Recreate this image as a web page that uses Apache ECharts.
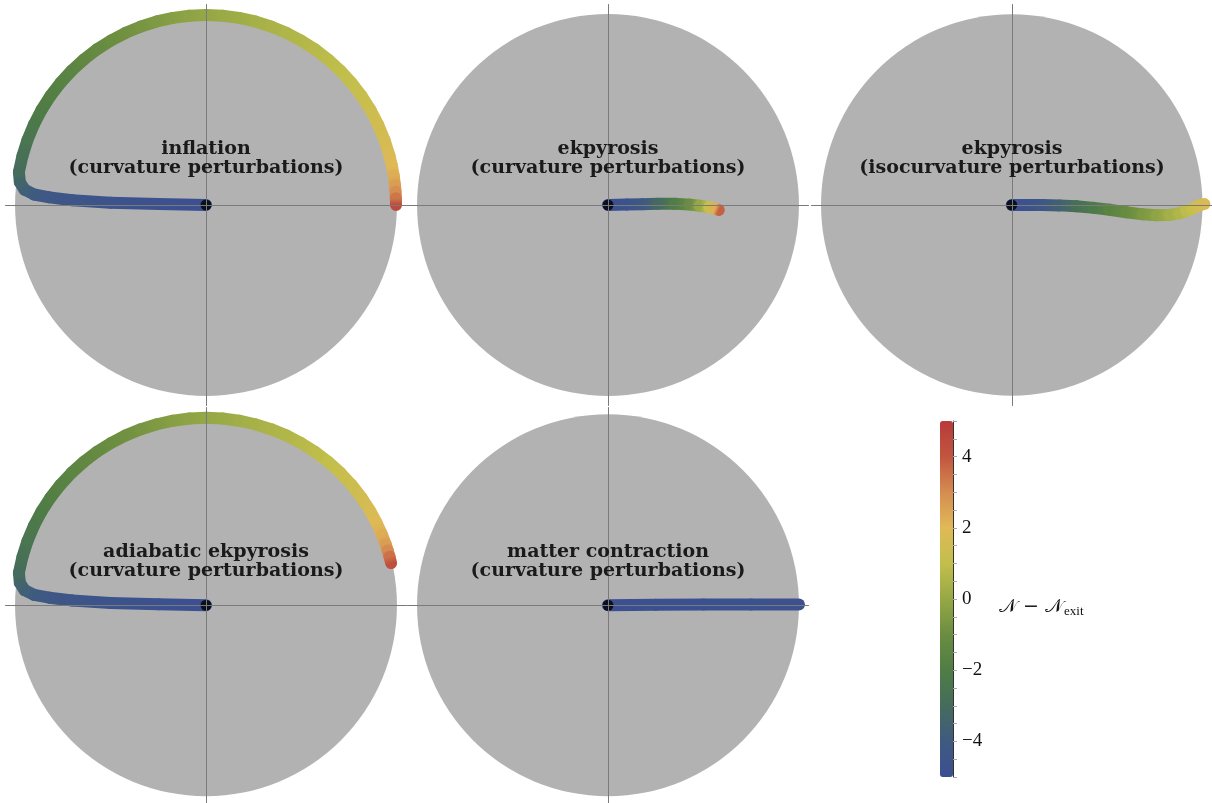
<!DOCTYPE html>
<html>
<head>
<meta charset="utf-8">
<script src="https://cdn.jsdelivr.net/npm/echarts@6/dist/echarts.min.js"></script>
<style>html,body{margin:0;padding:0;background:#fff}#c{width:1212px;height:803px}</style>
</head>
<body>
<div id="c"></div>
<script>
// ---- data ----
// straight legs: [x, y, N - N_exit]; arcs on the rim: [angle in degrees, N - N_exit]
const arcRadius = 0.995;
const inflationLeg = [
  [0,0,-5],[-0.25,0.005,-4.85],[-0.5,0.012,-4.65],[-0.7,0.025,-4.45],[-0.82,0.04,-4.25],
  [-0.9,0.055,-4.0],[-0.95,0.08,-3.75],[-0.975,0.12,-3.45]
];
const inflationArc = [
  [170,-3.0],[165,-2.75],[160,-2.5],[155,-2.27],[150,-2.05],[145,-1.87],[140,-1.7],[135,-1.52],
  [130,-1.35],[125,-1.17],[120,-1.0],[115,-0.85],[110,-0.7],[105,-0.52],[100,-0.35],[95,-0.2],
  [90,-0.05],[85,0.08],[80,0.2],[75,0.33],[70,0.45],[65,0.55],[60,0.65],[55,0.75],[50,0.85],
  [45,0.95],[40,1.05],[35,1.17],[30,1.3],[25,1.45],[20,1.6],[15,1.8],[12,2.0],[9,2.25],
  [6,2.6],[4,2.95],[2,3.4],[0,4.5]
];
const adiabaticLeg = [
  [0,0,-5],[-0.25,0.005,-4.85],[-0.5,0.012,-4.65],[-0.7,0.025,-4.45],[-0.82,0.04,-4.25],
  [-0.9,0.055,-4.0],[-0.95,0.08,-3.75],[-0.975,0.12,-3.45]
];
const adiabaticArc = [
  [170,-3.0],[165,-2.75],[160,-2.5],[155,-2.27],[150,-2.05],[145,-1.87],[140,-1.7],[135,-1.52],
  [130,-1.35],[125,-1.17],[120,-1.0],[115,-0.85],[110,-0.7],[105,-0.52],[100,-0.35],[95,-0.2],
  [90,-0.05],[85,0.1],[80,0.25],[75,0.37],[70,0.5],[65,0.62],[60,0.75],[55,0.87],[50,1.0],
  [45,1.15],[40,1.3],[35,1.5],[30,1.7],[26,1.95],[22,2.3],[19,2.6],[17,3.0],[15,3.5],[13,4.2]
];
const ekpyrosisCurvLeg = [
  [0,0,-5],[0.1,0.002,-4.7],[0.18,0.004,-4.2],[0.26,0.006,-3.2],[0.35,0.006,-2.0],
  [0.43,0.002,-1.0],[0.48,-0.004,0],[0.53,-0.012,1.2],[0.56,-0.018,2.2],[0.58,-0.026,3.8]
];
const ekpyrosisIsoLeg = [
  [0,0,-5],[0.08,0,-4.75],[0.164,0,-4.3],[0.25,-0.002,-3.6],[0.339,-0.007,-2.8],
  [0.43,-0.015,-2.2],[0.513,-0.025,-1.6],[0.6,-0.038,-1.1],[0.687,-0.049,-0.6],
  [0.76,-0.054,-0.15],[0.827,-0.052,0.3],[0.88,-0.043,0.6],[0.915,-0.031,0.9],
  [0.945,-0.02,1.15],[0.967,-0.009,1.4],[0.99,0,1.6],[1.01,0.005,1.8]
];
const matterLeg = [
  [0,0,-5],[0.25,0.003,-4.95],[0.5,0.004,-4.9],[0.75,0.004,-4.85],[1.0,0.004,-4.8]
];
const panelTitles = [
  'inflation\n(curvature perturbations)',
  'ekpyrosis\n(curvature perturbations)',
  'ekpyrosis\n(isocurvature perturbations)',
  'adiabatic ekpyrosis\n(curvature perturbations)',
  'matter contraction\n(curvature perturbations)'
];
const colorbarTicks = [-4, -2, 0, 2, 4];
const nRange = [-5, 5];
const palette = ['#3b4f92','#3f5a80','#456c5c','#4f7d45','#6a8d40','#96a846','#c2bf4b','#e0b957','#d58c50','#c2553f','#b83a3a'];

function arcToXY(arc) {
  return arc.map(a => [arcRadius * Math.cos(a[0] * Math.PI / 180), arcRadius * Math.sin(a[0] * Math.PI / 180), a[1]]);
}
const panelPaths = [
  inflationLeg.concat(arcToXY(inflationArc)),
  ekpyrosisCurvLeg,
  ekpyrosisIsoLeg,
  adiabaticLeg.concat(arcToXY(adiabaticArc)),
  matterLeg
];

// ---- layout ----
const centers = [[206,205],[608,205],[1012,205],[206,608],[608,608]];
const half = 200.5;
const grids = centers.map(c => ({left: c[0]-half, top: c[1]-half, width: 2*half, height: 2*half}));
grids.push({left: 940, top: 421, width: 13, height: 356});

const axisStyle = {color: '#7a7a7a', width: 1};
const xAxes = [], yAxes = [];
for (let i = 0; i < 5; i++) {
  xAxes.push({gridIndex: i, type: 'value', min: -1.05, max: 1.05, z: 10,
    axisLine: {show: true, onZero: true, lineStyle: axisStyle},
    axisTick: {show: false}, axisLabel: {show: false}, splitLine: {show: false}});
  yAxes.push({gridIndex: i, type: 'value', min: -1.05, max: 1.05, z: 10,
    axisLine: {show: true, onZero: true, lineStyle: axisStyle},
    axisTick: {show: false}, axisLabel: {show: false}, splitLine: {show: false}});
}
xAxes.push({gridIndex: 5, type: 'value', min: 0, max: 1, show: false});
yAxes.push({gridIndex: 5, type: 'value', min: nRange[0], max: nRange[1], interval: 0.5, position: 'right',
  axisLine: {show: true, onZero: false, lineStyle: {color: '#333', width: 1}},
  axisTick: {show: true, length: 4, lineStyle: {color: '#aaa'}},
  splitLine: {show: false},
  axisLabel: {margin: 9, fontFamily: 'Liberation Serif', fontSize: 19, color: '#111',
    formatter: v => colorbarTicks.indexOf(v) >= 0 ? (v < 0 ? '\u2212' + (-v) : String(v)) : ''},
  name: '{m|\uD835\uDCA9 \u2212 \uD835\uDCA9}{s|exit}', nameLocation: 'middle', nameRotate: 0, nameGap: 46,
  nameTextStyle: {padding: [16,0,0,0], rich: {
    m: {fontFamily: 'DejaVu Serif', fontSize: 19, color: '#111'},
    s: {fontFamily: 'Liberation Serif', fontSize: 13, color: '#111', padding: [10,0,0,1]}
  }}
});

const series = [];
const curveIdx = [];
function colorAt(n) { return echarts.color.lerp((n - nRange[0]) / (nRange[1] - nRange[0]), palette); }
panelPaths.forEach((path, i) => {
  series.push({type: 'custom', xAxisIndex: i, yAxisIndex: i, z: 1, silent: true,
    data: [[0, 0]], encode: {x: 0, y: 1},
    renderItem: (p, api) => {
      const c = api.coord([0, 0]); const e = api.coord([1, 0]);
      return {type: 'circle', shape: {cx: c[0], cy: c[1], r: e[0] - c[0]}, style: {fill: '#b2b2b2'}};
    }});
  const segs = [];
  for (let k = 0; k < path.length - 1; k++) {
    segs.push([path[k][0], path[k][1], path[k+1][0], path[k+1][1], (path[k][2] + path[k+1][2]) / 2, path[k][2], path[k+1][2]]);
  }
  curveIdx.push(series.length);
  series.push({type: 'custom', xAxisIndex: i, yAxisIndex: i, z: 2, silent: true,
    data: segs, encode: {x: [0, 2], y: [1, 3]},
    renderItem: (p, api) => {
      const a = api.coord([api.value(0), api.value(1)]);
      const b = api.coord([api.value(2), api.value(3)]);
      const c1 = colorAt(api.value(5)), c2 = colorAt(api.value(6));
      return {type: 'line', shape: {x1: a[0], y1: a[1], x2: b[0], y2: b[1]},
        style: {lineWidth: 12, lineCap: 'round',
          stroke: new echarts.graphic.LinearGradient(a[0], a[1], b[0], b[1], [{offset: 0, color: c1}, {offset: 1, color: c2}], true)}};
    }});
  series.push({type: 'scatter', xAxisIndex: i, yAxisIndex: i, z: 3, silent: true,
    data: [[0, 0]], symbolSize: 11, itemStyle: {color: '#000'}});
});

const graphics = panelTitles.map((t, i) => ({
  type: 'text', x: centers[i][0], y: centers[i][1] - 65, z: 20,
  style: {text: t, textAlign: 'center', textVerticalAlign: 'top', font: 'bold 19px "DejaVu Serif"', lineHeight: 19, fill: '#1a1a1a'}
}));

const chart = echarts.init(document.getElementById('c'), null, {renderer: 'canvas'});
chart.setOption({
  animation: false,
  backgroundColor: '#fff',
  grid: grids,
  xAxis: xAxes,
  yAxis: yAxes,
  visualMap: {type: 'continuous', min: nRange[0], max: nRange[1], dimension: 4, seriesIndex: curveIdx,
    left: 940, top: 421, itemWidth: 13, itemHeight: 356, padding: 0, calculable: false, hoverLink: false,
    text: null, textStyle: {color: 'transparent'}, inRange: {color: palette}},
  graphic: graphics,
  series: series
});
</script>
</body>
</html>
